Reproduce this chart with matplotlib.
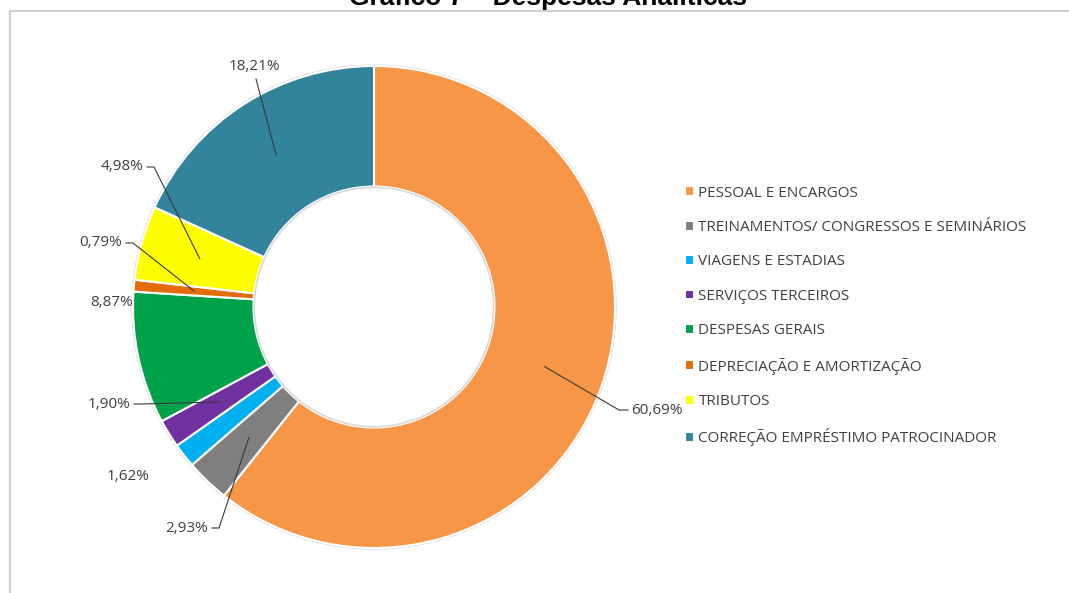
import numpy as np
import matplotlib
matplotlib.use("Agg")
import matplotlib.pyplot as plt

W, H = 1069, 593

categories = [
    "PESSOAL E ENCARGOS",
    "TREINAMENTOS/ CONGRESSOS E SEMINÁRIOS",
    "VIAGENS E ESTADIAS",
    "SERVIÇOS TERCEIROS",
    "DESPESAS GERAIS",
    "DEPRECIAÇÃO E AMORTIZAÇÃO",
    "TRIBUTOS",
    "CORREÇÃO EMPRÉSTIMO PATROCINADOR",
]
values = [60.69, 2.93, 1.62, 1.90, 8.87, 0.79, 4.98, 18.21]
labels = ["60,69%", "2,93%", "1,62%", "1,90%", "8,87%", "0,79%", "4,98%", "18,21%"]
colors = ["#F79646", "#7F7F7F", "#00B0F0", "#7030A0",
          "#00A14B", "#E36C09", "#FFFF00", "#31849B"]

# label placement in pixel coords (x, y, ha, has leader line)
label_pos = [
    (631, 410, "left", True),
    (208, 528, "right", True),
    (150, 477, "right", False),
    (130, 404, "right", True),
    (133, 302, "right", False),
    (122, 243, "right", True),
    (143, 167, "right", True),
    (254, 67, "center", True),
]

plt.rcParams["font.family"] = ["Open Sans", "DejaVu Sans"]
txt_color = "#404040"

fig = plt.figure(figsize=(W / 100, H / 100), dpi=100)
ax = fig.add_axes([0, 0, 1, 1])

cx, cy, R = 374, 307, 241
wedges, _ = ax.pie(values, colors=colors, startangle=90, counterclock=False,
                   center=(cx, H - cy), radius=R,
                   wedgeprops=dict(width=R * 0.5, edgecolor="white", linewidth=1.5))
ax.set_xlim(0, W)
ax.set_ylim(0, H)
ax.set_aspect("equal")
ax.axis("off")

# soft outline like the original shadow
circ_out = plt.Circle((cx, H - cy), R + 0.8, fill=False, edgecolor="#d9d9d9", lw=1.2, zorder=0)
circ_in = plt.Circle((cx, H - cy), R * 0.5 - 0.8, fill=False, edgecolor="#d9d9d9", lw=1.2)
ax.add_patch(circ_out)
ax.add_patch(circ_in)

for w, lab, (tx, ty, ha, leader) in zip(wedges, labels, label_pos):
    ang = np.deg2rad((w.theta1 + w.theta2) / 2)
    px = cx + 0.75 * R * np.cos(ang)
    py = cy - 0.75 * R * np.sin(ang)
    ax.text(tx, H - ty, lab, ha=ha, va="center", fontsize=11, color=txt_color)
    if not leader:
        continue
    if ha == "center":
        xs, ys = [tx + 2, px], [ty + 12, py]
    elif ha == "right":
        xs, ys = [tx + 4, tx + 11, px], [ty, ty, py]
    else:
        xs, ys = [tx - 3, tx - 12, px], [ty, ty, py]
    ax.plot(xs, [H - y for y in ys], color="#3a3a3a", lw=0.8, zorder=5)

leg = ax.legend(wedges, categories, loc="upper left",
                bbox_to_anchor=(677 / W, 1 - 178 / H), frameon=False,
                fontsize=11, handlelength=0.6, handleheight=0.6,
                handletextpad=0.3, labelspacing=1.27, borderpad=0)
for t in leg.get_texts():
    t.set_color(txt_color)

# chart frame and clipped heading
ax.plot([10, 10], [0, H - 11], color="#cfcfcf", lw=1.5)
ax.plot([10, W], [H - 11, H - 11], color="#cfcfcf", lw=1.5)
fig.text(548 / W, 1 - 5 / H, "Gráfico 7 – Despesas Analíticas", ha="center",
         va="baseline", fontsize=19, fontweight="bold",
         family=["Liberation Sans", "DejaVu Sans"])

fig.savefig("out.png", dpi=100)
